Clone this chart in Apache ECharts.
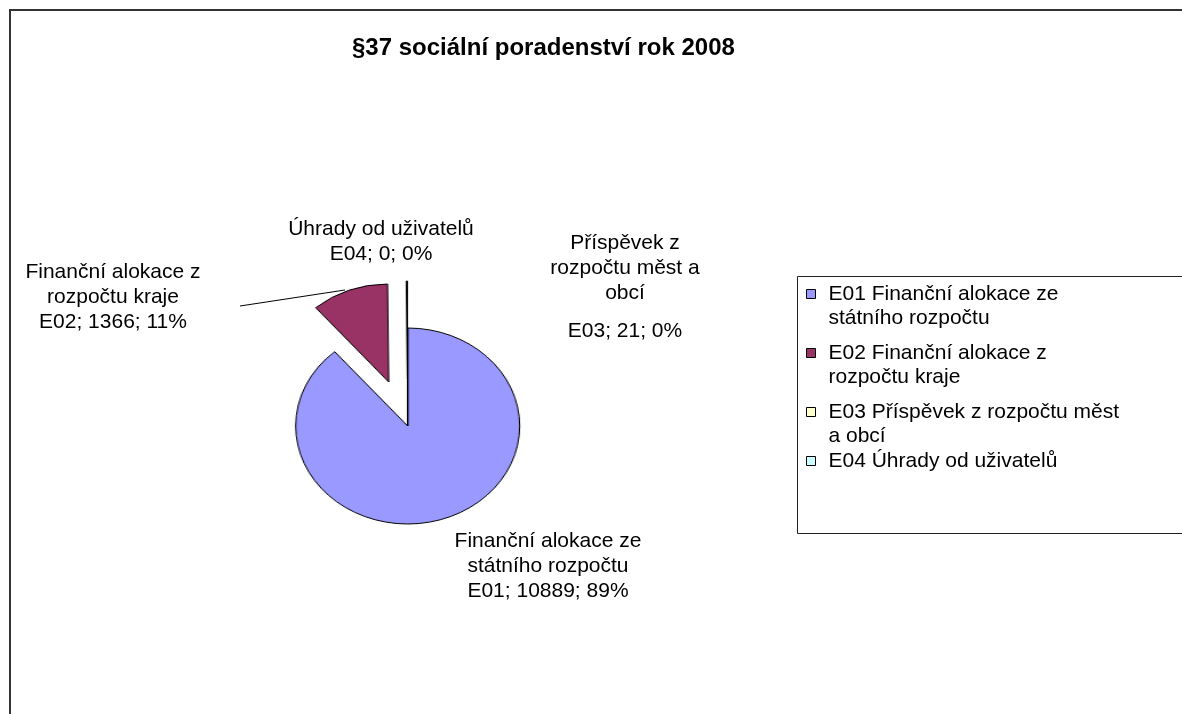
<!DOCTYPE html>
<html>
<head>
<meta charset="utf-8">
<script src="https://cdn.jsdelivr.net/npm/echarts@6/dist/echarts.min.js"></script>
<style>
html, body { margin: 0; padding: 0; background: #fff; }
#pie, #main { position: absolute; left: 0; top: 0; width: 1182px; height: 714px; }
/* the Excel pie is a bit wider than tall, so stretch only the pie layer */
#pie { transform: scaleX(1.143); transform-origin: 407.7px 426px; }
</style>
</head>
<body>
<div id="pie"></div>
<div id="main"></div>
<script>
var codes = ['E01', 'E02', 'E03', 'E04'];
var names = [
	'Finanční alokace ze státního rozpočtu',
	'Finanční alokace z rozpočtu kraje',
	'Příspěvek z rozpočtu měst a obcí',
	'Úhrady od uživatelů'
];
var values = [10889, 1366, 21, 0];
var exploded = [false, true, true, false];
var labelNames = [
	'Finanční alokace ze\nstátního rozpočtu',
	'Finanční alokace z\nrozpočtu kraje',
	'Příspěvek z\nrozpočtu měst a\nobcí',
	'Úhrady od uživatelů'
];
var legendNames = [
	'E01 Finanční alokace ze\nstátního rozpočtu',
	'E02 Finanční alokace z\nrozpočtu kraje',
	'E03 Příspěvek z rozpočtu měst\na obcí',
	'E04 Úhrady od uživatelů'
];
var colors = ['#9999FF', '#993366', '#FFFFCC', '#CCFFFF'];

var font = "'Liberation Sans', Arial, sans-serif";
var center = [407.7, 426];
var radius = 98;
// where Excel put the data labels (centre of each label block)
var labelAt = [[548, 566], [113, 297], [625, 293.5], [381, 242]];
var leader = [[240, 306], [345, 290]];

function seriesName(i) {
	return codes[i] + ' ' + names[i];
}

// pie layer
var pieChart = echarts.init(document.getElementById('pie'));
pieChart.setOption({
	animation: false,
	series: [{
		type: 'pie',
		center: center,
		radius: radius,
		startAngle: 90,
		clockwise: true,
		selectedMode: 'multiple',
		selectedOffset: 47,
		silent: true,
		label: { show: false },
		labelLine: { show: false },
		emphasis: { disabled: true },
		itemStyle: { borderColor: '#000', borderWidth: 1 },
		data: values.map(function (v, i) {
			return {
				name: seriesName(i),
				value: v,
				selected: exploded[i],
				itemStyle: { color: colors[i] }
			};
		})
	}]
});

// text layer: title, legend, data labels, frame
var chart = echarts.init(document.getElementById('main'));
chart.setOption({
	animation: false,
	title: {
		text: '§37 sociální poradenství rok 2008',
		left: 352,
		top: 36,
		padding: 0,
		textStyle: { fontFamily: font, fontSize: 24, fontWeight: 'bold', color: '#000' }
	},
	legend: {
		orient: 'vertical',
		left: 806,
		top: 258,
		padding: 0,
		itemGap: -13,
		itemWidth: 9,
		itemHeight: 9,
		icon: 'rect',
		selectedMode: false,
		formatter: function (name) {
			for (var i = 0; i < codes.length; i++) {
				if (seriesName(i) === name) {
					// Excel keeps the marker on the first line, so pad wrapped names on top
					if (legendNames[i].indexOf('\n') >= 0) return '{e| }\n' + legendNames[i];
					return legendNames[i];
				}
			}
			return name;
		},
		textStyle: {
			fontFamily: font, fontSize: 21, lineHeight: 24, color: '#000',
			rich: { e: { fontSize: 21, lineHeight: 24 } }
		},
		data: codes.map(function (c, i) {
			var twoLines = legendNames[i].indexOf('\n') >= 0;
			return {
				name: seriesName(i),
				itemStyle: { color: colors[i], borderColor: '#000', borderWidth: 1 },
				textStyle: { padding: twoLines ? [0, 0, 0, 8] : [14, 0, 14, 8] }
			};
		})
	},
	graphic: [
		{
			type: 'rect',
			shape: { x: 10, y: 10, width: 1300, height: 900 },
			style: { fill: 'none', stroke: '#333', lineWidth: 2 },
			silent: true
		},
		{
			type: 'rect',
			shape: { x: 797.5, y: 276.5, width: 600, height: 257 },
			style: { fill: 'none', stroke: '#222', lineWidth: 1 },
			silent: true
		}
	],
	series: [{
		type: 'pie',
		center: center,
		radius: radius,
		startAngle: 90,
		clockwise: true,
		percentPrecision: 0,
		avoidLabelOverlap: false,
		silent: true,
		selectedMode: false,
		emphasis: { disabled: true },
		itemStyle: { color: 'rgba(0,0,0,0)', borderWidth: 0 },
		label: {
			show: true,
			position: 'outside',
			fontFamily: font,
			color: '#000',
			formatter: function (p) {
				var lines = labelNames[p.dataIndex].split('\n').map(function (s) {
					return '{a|' + s + '}';
				});
				lines.push('{b|' + codes[p.dataIndex] + '; ' + p.value + '; ' + Math.round(p.percent) + '%}');
				return lines.join('\n');
			},
			rich: {
				a: { fontFamily: font, fontSize: 21, lineHeight: 25, color: '#000', align: 'center' },
				b: { fontFamily: font, fontSize: 21, lineHeight: 25, color: '#000', align: 'center' }
			}
		},
		labelLine: { show: false, lineStyle: { color: '#000', width: 1 } },
		labelLayout: function (p) {
			var pos = labelAt[p.dataIndex];
			var out = { x: pos[0], y: pos[1], align: 'center', verticalAlign: 'middle' };
			if (p.dataIndex === 1) out.labelLinePoints = leader;
			return out;
		},
		data: values.map(function (v, i) {
			var item = { name: seriesName(i), value: v };
			if (i === 1) item.labelLine = { show: true, length: 10, length2: 10 };
			if (i === 2) item.label = { rich: { b: { lineHeight: 51 } } };
			return item;
		})
	}]
});
</script>
</body>
</html>
